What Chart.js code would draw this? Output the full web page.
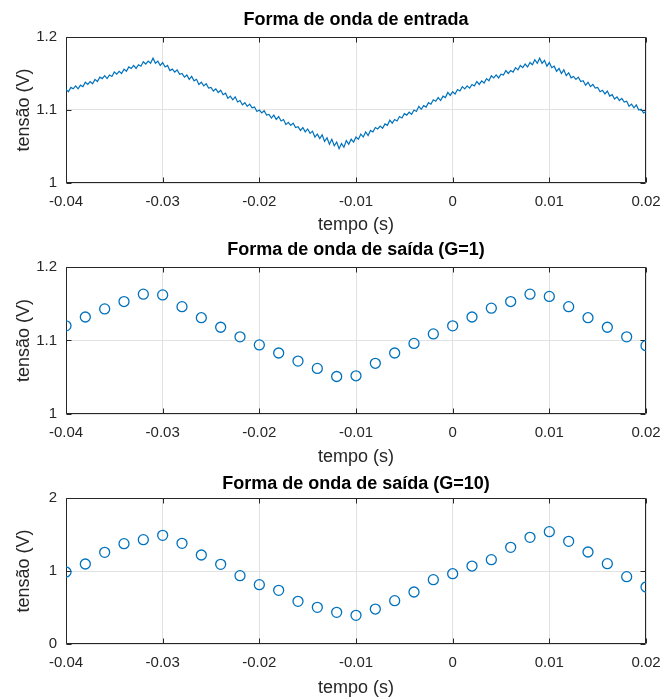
<!DOCTYPE html>
<html>
<head>
<meta charset="utf-8">
<script src="https://cdn.jsdelivr.net/npm/chart.js@4"></script>
<style>
  html, body { margin: 0; padding: 0; background: #fff; }
  body { width: 662px; height: 697px; position: relative; overflow: hidden; }
  canvas { position: absolute; left: 0; }
</style>
</head>
<body>
<canvas id="entrada" width="662" height="234" style="top:0px"></canvas>
<canvas id="saida1" width="662" height="232" style="top:234px"></canvas>
<canvas id="saida10" width="662" height="231" style="top:466px"></canvas>
<script>
// sinal de entrada (amostrado a cada 0.25 ms, a partir de -0.04 s)
const inputStart = -0.04
const inputStep = 0.00025
const inputVolts = [
  1.128, 1.125, 1.131, 1.129, 1.133, 1.129, 1.134, 1.132, 1.138, 1.135, 1.139, 1.136,
  1.142, 1.139, 1.145, 1.143, 1.147, 1.143, 1.148, 1.146, 1.152, 1.149, 1.153, 1.150,
  1.156, 1.153, 1.159, 1.157, 1.161, 1.157, 1.162, 1.160, 1.166, 1.163, 1.167, 1.164,
  1.171, 1.164, 1.167, 1.161, 1.165, 1.159, 1.161, 1.154, 1.156, 1.152, 1.155, 1.149,
  1.150, 1.145, 1.148, 1.142, 1.146, 1.140, 1.142, 1.135, 1.138, 1.133, 1.136, 1.130,
  1.131, 1.126, 1.129, 1.124, 1.127, 1.121, 1.123, 1.116, 1.119, 1.114, 1.118, 1.111,
  1.113, 1.107, 1.110, 1.105, 1.108, 1.103, 1.104, 1.098, 1.100, 1.096, 1.099, 1.093,
  1.094, 1.089, 1.093, 1.087, 1.091, 1.085, 1.087, 1.080, 1.083, 1.079, 1.082, 1.076,
  1.077, 1.072, 1.076, 1.070, 1.074, 1.068, 1.071, 1.063, 1.067, 1.061, 1.066, 1.057,
  1.062, 1.053, 1.060, 1.051, 1.056, 1.047, 1.054, 1.049, 1.058, 1.053, 1.060, 1.056,
  1.063, 1.060, 1.067, 1.063, 1.070, 1.065, 1.072, 1.070, 1.076, 1.074, 1.078, 1.075,
  1.081, 1.079, 1.086, 1.082, 1.087, 1.085, 1.091, 1.089, 1.095, 1.093, 1.097, 1.094,
  1.100, 1.098, 1.105, 1.101, 1.106, 1.104, 1.110, 1.108, 1.114, 1.112, 1.117, 1.113,
  1.119, 1.117, 1.124, 1.120, 1.125, 1.122, 1.128, 1.126, 1.132, 1.129, 1.133, 1.130,
  1.135, 1.133, 1.139, 1.135, 1.140, 1.137, 1.143, 1.140, 1.147, 1.144, 1.148, 1.144,
  1.149, 1.148, 1.154, 1.150, 1.154, 1.152, 1.158, 1.155, 1.161, 1.158, 1.163, 1.159,
  1.165, 1.162, 1.169, 1.164, 1.171, 1.164, 1.168, 1.160, 1.165, 1.158, 1.160, 1.153,
  1.157, 1.150, 1.155, 1.147, 1.151, 1.144, 1.146, 1.142, 1.145, 1.139, 1.140, 1.134,
  1.138, 1.132, 1.135, 1.130, 1.131, 1.125, 1.127, 1.122, 1.126, 1.119, 1.121, 1.115,
  1.118, 1.113, 1.116, 1.111, 1.112, 1.105, 1.108, 1.103, 1.107, 1.100, 1.101, 1.096,
  1.098
]

// saídas amostradas a cada 2 ms
const sampleTimes = [
  -0.040, -0.038, -0.036, -0.034, -0.032, -0.030, -0.028, -0.026, -0.024, -0.022, -0.020,
  -0.018, -0.016, -0.014, -0.012, -0.010, -0.008, -0.006, -0.004, -0.002, 0,
  0.002, 0.004, 0.006, 0.008, 0.010, 0.012, 0.014, 0.016, 0.018, 0.020
]
const outputG1 = [
  1.120, 1.132, 1.143, 1.153, 1.163, 1.162, 1.146, 1.131, 1.118, 1.105, 1.094,
  1.083, 1.072, 1.062, 1.051, 1.052, 1.069, 1.083, 1.096, 1.109, 1.120,
  1.132, 1.144, 1.153, 1.163, 1.160, 1.146, 1.131, 1.118, 1.105, 1.093
]
const outputG10 = [
  0.986, 1.096, 1.256, 1.374, 1.429, 1.489, 1.379, 1.219, 1.091, 0.936, 0.813,
  0.735, 0.584, 0.502, 0.434, 0.393, 0.479, 0.594, 0.712, 0.881, 0.963,
  1.068, 1.155, 1.324, 1.461, 1.539, 1.406, 1.260, 1.100, 0.922, 0.781
]

const xTickValues = [-0.04, -0.03, -0.02, -0.01, 0, 0.01, 0.02]
const yTicksG1 = [1, 1.1, 1.2]
const yTicksG10 = [0, 1, 2]

const blue = '#0072BD'
const axisColor = '#262626'
const fontFamily = '"Liberation Sans", Arial, Helvetica, sans-serif'

Chart.defaults.font.family = fontFamily
Chart.defaults.color = axisColor

// caixa estilo MATLAB com marcas para dentro
const matlabBox = {
  id: 'matlabBox',
  beforeDatasetsDraw(chart) {
    const { ctx, chartArea: a, scales: { x, y } } = chart
    const L = Math.round(a.left) + 0.5
    const R = Math.round(a.right) - 0.5
    const T = Math.round(a.top) + 0.5
    const B = Math.round(a.bottom) - 0.5
    const len = 5
    ctx.save()
    ctx.strokeStyle = axisColor
    ctx.lineWidth = 1
    ctx.beginPath()
    ctx.rect(L, T, R - L, B - T)
    x.ticks.forEach(t => {
      const px = Math.round(x.getPixelForValue(t.value)) + 0.5
      ctx.moveTo(px, B); ctx.lineTo(px, B - len)
      ctx.moveTo(px, T); ctx.lineTo(px, T + len)
    })
    y.ticks.forEach(t => {
      const py = Math.round(y.getPixelForValue(t.value)) + 0.5
      ctx.moveTo(L, py); ctx.lineTo(L + len, py)
      ctx.moveTo(R, py); ctx.lineTo(R - len, py)
    })
    ctx.stroke()
    ctx.restore()
  }
}

// box: posições na página (px)
function makePanel(id, title, dataset, yMin, yMax, yTicks, box) {
  const titleLine = 18 * 1.2
  const titleTop = box.titleY - box.top - titleLine / 2
  const titleBottom = box.plotTop - box.top - titleTop - titleLine
  return new Chart(document.getElementById(id), {
    type: 'scatter',
    data: { datasets: [dataset] },
    options: {
      responsive: false,
      animation: false,
      layout: { padding: { left: 0, right: 16, top: 0, bottom: 0 } },
      plugins: {
        legend: { display: false },
        tooltip: { enabled: false },
        title: {
          display: true,
          fullSize: false,
          text: title,
          color: '#000',
          font: { size: 18, weight: 'bold' },
          padding: { top: titleTop, bottom: titleBottom }
        }
      },
      scales: {
        x: {
          type: 'linear',
          min: -0.04,
          max: 0.02,
          afterBuildTicks: s => { s.ticks = xTickValues.map(v => ({ value: v })) },
          afterFit: s => {
            s.height = box.height - (box.plotBottom - box.top)
            s.paddingLeft = 0
            s.paddingRight = 0
          },
          grid: { color: '#e2e2e2', drawTicks: false },
          border: { display: false },
          ticks: {
            padding: 10,
            maxRotation: 0,
            autoSkip: false,
            font: { size: 15 },
            callback: v => String(v)
          },
          title: {
            display: true,
            text: 'tempo (s)',
            font: { size: 18, lineHeight: 1 },
            padding: { top: 0, bottom: 0 }
          }
        },
        y: {
          min: yMin,
          max: yMax,
          afterBuildTicks: s => { s.ticks = yTicks.map(v => ({ value: v })) },
          afterFit: s => {
            s.width = 66
            s.paddingTop = 0
            s.paddingBottom = 0
          },
          grid: { color: '#e2e2e2', drawTicks: false },
          border: { display: false },
          ticks: {
            padding: 9,
            font: { size: 15 },
            callback: v => String(v)
          },
          title: {
            display: true,
            text: 'tensão (V)',
            font: { size: 18 },
            padding: { top: 13, bottom: 0 }
          }
        }
      }
    },
    plugins: [matlabBox]
  })
}

const inputPoints = inputVolts.map((v, i) => ({ x: inputStart + i * inputStep, y: v }))
const g1Points = sampleTimes.map((t, i) => ({ x: t, y: outputG1[i] }))
const g10Points = sampleTimes.map((t, i) => ({ x: t, y: outputG10[i] }))

makePanel('entrada', 'Forma de onda de entrada', {
  data: inputPoints,
  showLine: true,
  borderColor: blue,
  borderWidth: 1.2,
  pointRadius: 0,
  tension: 0
}, 1, 1.2, yTicksG1, { top: 0, height: 234, titleY: 20.5, plotTop: 37, plotBottom: 183 })

const markerStyle = {
  showLine: false,
  pointStyle: 'circle',
  pointRadius: 5,
  pointBorderWidth: 1.3,
  pointBorderColor: blue,
  pointBackgroundColor: 'rgba(0,0,0,0)'
}

makePanel('saida1', 'Forma de onda de saída (G=1)', { data: g1Points, ...markerStyle },
  1, 1.2, yTicksG1, { top: 234, height: 232, titleY: 250, plotTop: 267, plotBottom: 414 })

makePanel('saida10', 'Forma de onda de saída (G=10)', { data: g10Points, ...markerStyle },
  0, 2, yTicksG10, { top: 466, height: 231, titleY: 484, plotTop: 498, plotBottom: 644 })
</script>
</body>
</html>
